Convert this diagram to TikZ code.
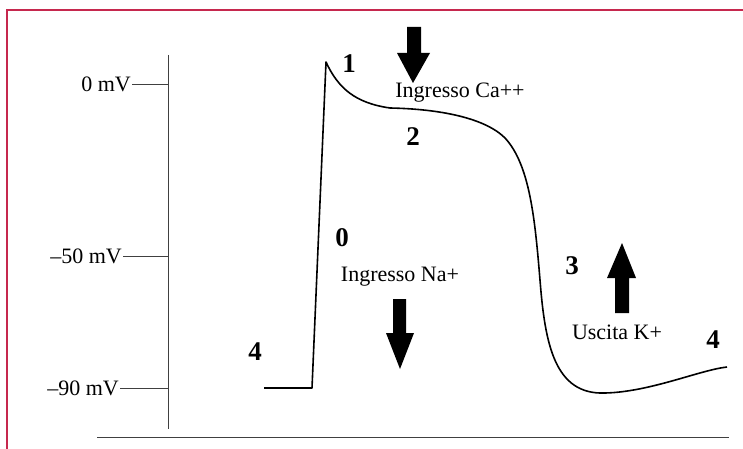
\documentclass[tikz,border=0pt]{standalone}
\usepackage{fontspec}
\setmainfont{Liberation Serif}
\definecolor{frame}{RGB}{198,40,78}
\begin{document}
\begin{tikzpicture}[x=1pt,y=-1pt,
    phase/.style={font=\fontsize{27}{30}\selectfont\bfseries},
    ion/.style={font=\fontsize{22}{25}\selectfont},
    level/.style={font=\fontsize{22}{25}\selectfont, anchor=east, inner sep=1pt}]
    \useasboundingbox (0,0) rectangle (743,449);
    % frame on the left and top
    \draw[frame, line width=2.5pt] (7,449) -- (7,10) -- (743,10);

    % axes and voltage ticks
    \draw[black!75, line width=1pt] (168,55) -- (168,429);
    \draw[black!75, line width=1pt] (97,437) -- (729,437);
    \draw[black!75, line width=0.8pt] (132,84) -- (168,84);
    \draw[black!75, line width=0.8pt] (123,256) -- (168,256);
    \draw[black!75, line width=0.8pt] (120,388) -- (168,388);
    \node[level] (zero) at (132,84) {0 mV};
    \node[level] (minus50) at (123,256) {--50 mV};
    \node[level] (minus90) at (120,388) {--90 mV};

    % action potential
    \draw[line width=1.6pt, line join=round] (264,388) -- (312,388) -- (326,62)
        .. controls (338,88) and (355,103) .. (390,108)
        .. controls (440,109) and (485,118) .. (505,138)
        .. controls (530,165) and (535,220) .. (540,280)
        .. controls (545,345) and (555,395) .. (605,393)
        .. controls (650,392) and (700,370) .. (727,367);

    % phase numbers
    \node[phase] (p1) at (349,64) {1};
    \node[phase] (p2) at (413,137) {2};
    \node[phase] (p0) at (342,238) {0};
    \node[phase] (p3) at (572,266) {3};
    \node[phase] (p4a) at (255,352) {4};
    \node[phase] (p4b) at (713,340) {4};

    % ion currents
    \node[ion] (ca) at (460,93) {Ingresso Ca++};
    \node[ion] (na) at (400,277) {Ingresso Na+};
    \node[ion] (k) at (617,332) {Uscita K+};
    \fill (407,27) -- (421,27) -- (421,53) -- (430,53) -- (413,83) -- (397,53) -- (407,53) -- cycle;
    \fill (393,299) -- (406,299) -- (406,333) -- (414,333) -- (400,369) -- (386,333) -- (393,333) -- cycle;
    \fill (615,313) -- (629,313) -- (629,278) -- (636,278) -- (622,243) -- (607,278) -- (615,278) -- cycle;
\end{tikzpicture}
\end{document}
